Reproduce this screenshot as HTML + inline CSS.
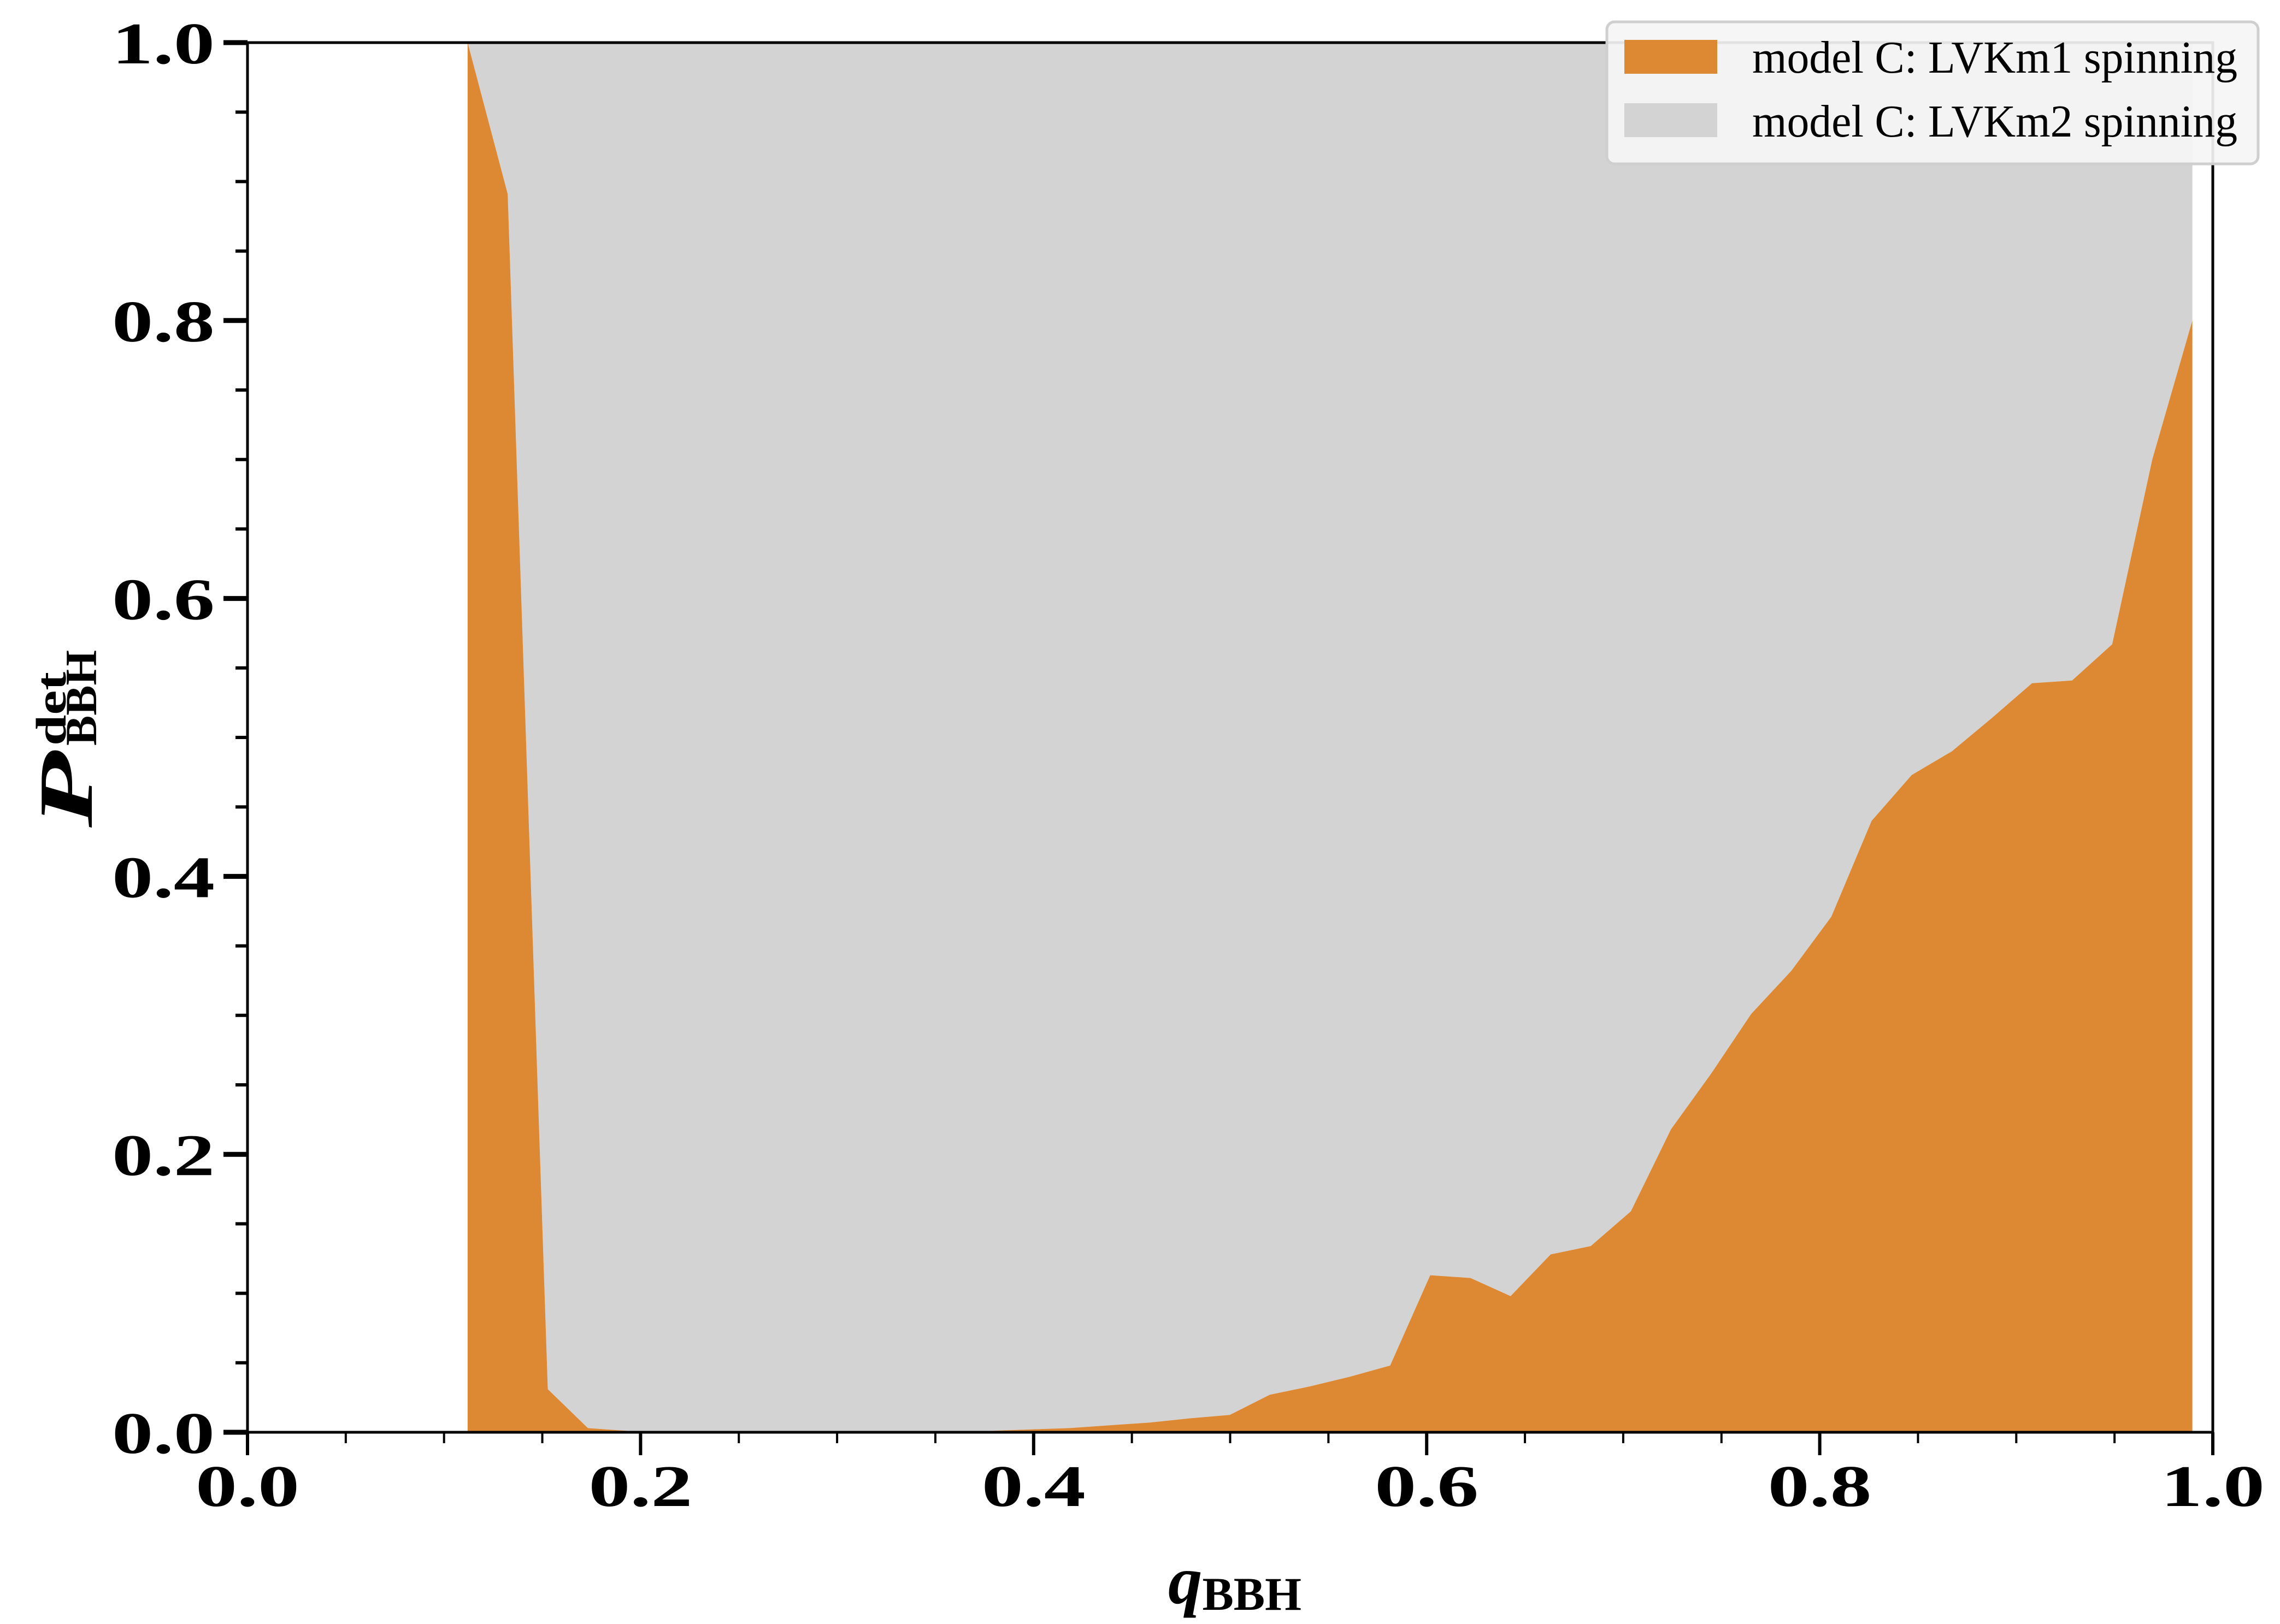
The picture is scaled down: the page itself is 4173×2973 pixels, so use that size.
<!DOCTYPE html>
<html><head><meta charset="utf-8"><style>
html,body{margin:0;padding:0;background:#fff;}
svg{display:block;}
</style></head><body>
<svg id="chart" width="4173" height="2973" viewBox="0 0 4173 2973" xmlns="http://www.w3.org/2000/svg">
<g id="plot"></g>
<g id="axes"></g>
<g id="legend">
  <rect x="2941" y="40" width="1192" height="260" rx="14" fill="#f5f5f5" fill-opacity="0.92" stroke="#cfcfcf" stroke-width="5"/>
  <rect x="2973" y="73" width="170" height="62" fill="#dd8833"/>
  <text x="3207" y="133" font-family="'Liberation Serif', serif" font-size="84" textLength="888" lengthAdjust="spacingAndGlyphs" fill="#000">model C: LVKm1 spinning</text>
  <rect x="2973" y="189" width="170" height="62" fill="#d3d3d3"/>
  <text x="3207" y="250" font-family="'Liberation Serif', serif" font-size="84" textLength="888" lengthAdjust="spacingAndGlyphs" fill="#000">model C: LVKm2 spinning</text>
</g>
<text x="2260" y="2935" text-anchor="middle" font-family="'Liberation Serif', serif" font-weight="bold" fill="#000"><tspan font-style="italic" font-size="125">q</tspan><tspan font-size="86" dy="12">BBH</tspan></text>
<g font-family="'Liberation Serif', serif" font-weight="bold" fill="#000">
  <text transform="translate(168,1515) rotate(-90)" font-style="italic" font-size="140" textLength="140" lengthAdjust="spacingAndGlyphs">P</text>
  <text transform="translate(176,1365) rotate(-90)" font-size="82" textLength="175" lengthAdjust="spacingAndGlyphs">BBH</text>
  <text transform="translate(120,1365) rotate(-90)" font-size="78" textLength="135" lengthAdjust="spacingAndGlyphs">det</text>
</g>
</svg>
<script>
const qValues = [0.112,0.1324,0.1528,0.1732,0.1936,0.2141,0.2345,0.2549,0.2753,0.2957,0.3161,0.3365,0.3569,0.3773,0.3977,0.4182,0.4386,0.459,0.4794,0.4998,0.5202,0.5406,0.561,0.5814,0.6018,0.6223,0.6427,0.6631,0.6835,0.7039,0.7243,0.7447,0.7651,0.7855,0.8059,0.8264,0.8468,0.8672,0.8876,0.908,0.9284,0.9488,0.9692,0.9896];
const lvkm1Values = [1.0,0.891,0.031,0.003,0.001,0.0005,0.0005,0.0005,0.0005,0.0005,0.0005,0.0005,0.0008,0.001,0.002,0.003,0.005,0.007,0.010,0.0125,0.027,0.033,0.040,0.048,0.113,0.111,0.098,0.128,0.134,0.159,0.218,0.258,0.301,0.332,0.371,0.44,0.473,0.49,0.514,0.539,0.541,0.567,0.70,0.80];
const lvkm2Totals = [1,1,1,1,1,1,1,1,1,1,1,1,1,1,1,1,1,1,1,1,1,1,1,1,1,1,1,1,1,1,1,1,1,1,1,1,1,1,1,1,1,1,1,1];
const xTickLabels = ["0.0","0.2","0.4","0.6","0.8","1.0"];
const yTickLabels = ["0.0","0.2","0.4","0.6","0.8","1.0"];

const NS="http://www.w3.org/2000/svg";
const L=453,R=4050,T=78,B=2622;
const xs=v=>L+(R-L)*v, ys=v=>B-(B-T)*v;
const plot=document.getElementById('plot'), axes=document.getElementById('axes');
function mk(tag,attrs,parent){const e=document.createElementNS(NS,tag);for(const k in attrs)e.setAttribute(k,attrs[k]);parent.appendChild(e);return e;}

let gp=qValues.map((q,i)=>xs(q)+','+ys(lvkm2Totals[i]));
for(let i=qValues.length-1;i>=0;i--) gp.push(xs(qValues[i])+','+ys(lvkm1Values[i]));
const gray=mk('polygon',{points:gp.join(' '),fill:'#d3d3d3'},plot);


let op=qValues.map((q,i)=>xs(q)+','+ys(lvkm1Values[i]));
op.push(xs(qValues[qValues.length-1])+','+ys(0)); op.push(xs(qValues[0])+','+ys(0));
const orange=mk('polygon',{points:op.join(' '),fill:'#dd8833'},plot);



const fr=mk('rect',{x:L,y:T,width:R-L,height:B-T,fill:'none',stroke:'#000','stroke-width':5},axes);



for(let k=0;k<=20;k++){
  const v=k/20, major=k%4===0;
  const tx=mk('line',{x1:xs(v),x2:xs(v),y1:B,y2:B+(major?42:20),stroke:'#000','stroke-width':major?6:4},axes);
  
  
  const ty=mk('line',{x1:L,x2:L-(major?44:22),y1:ys(v),y2:ys(v),stroke:'#000','stroke-width':major?9:6},axes);
  
  
}
xTickLabels.forEach((s,i)=>{
  const t=mk('text',{x:xs(i/5),y:B+135,'text-anchor':'middle','font-family':"'Liberation Serif', serif",'font-weight':'bold','font-size':108,textLength:190,lengthAdjust:'spacingAndGlyphs'},axes);
  t.textContent=s;
  
  
});
yTickLabels.forEach((s,i)=>{
  const t=mk('text',{x:L-60,y:ys(i/5)+38,'text-anchor':'end','font-family':"'Liberation Serif', serif",'font-weight':'bold','font-size':108,textLength:188,lengthAdjust:'spacingAndGlyphs'},axes);
  t.textContent=s;
  
  
});
</script>
</body></html>
